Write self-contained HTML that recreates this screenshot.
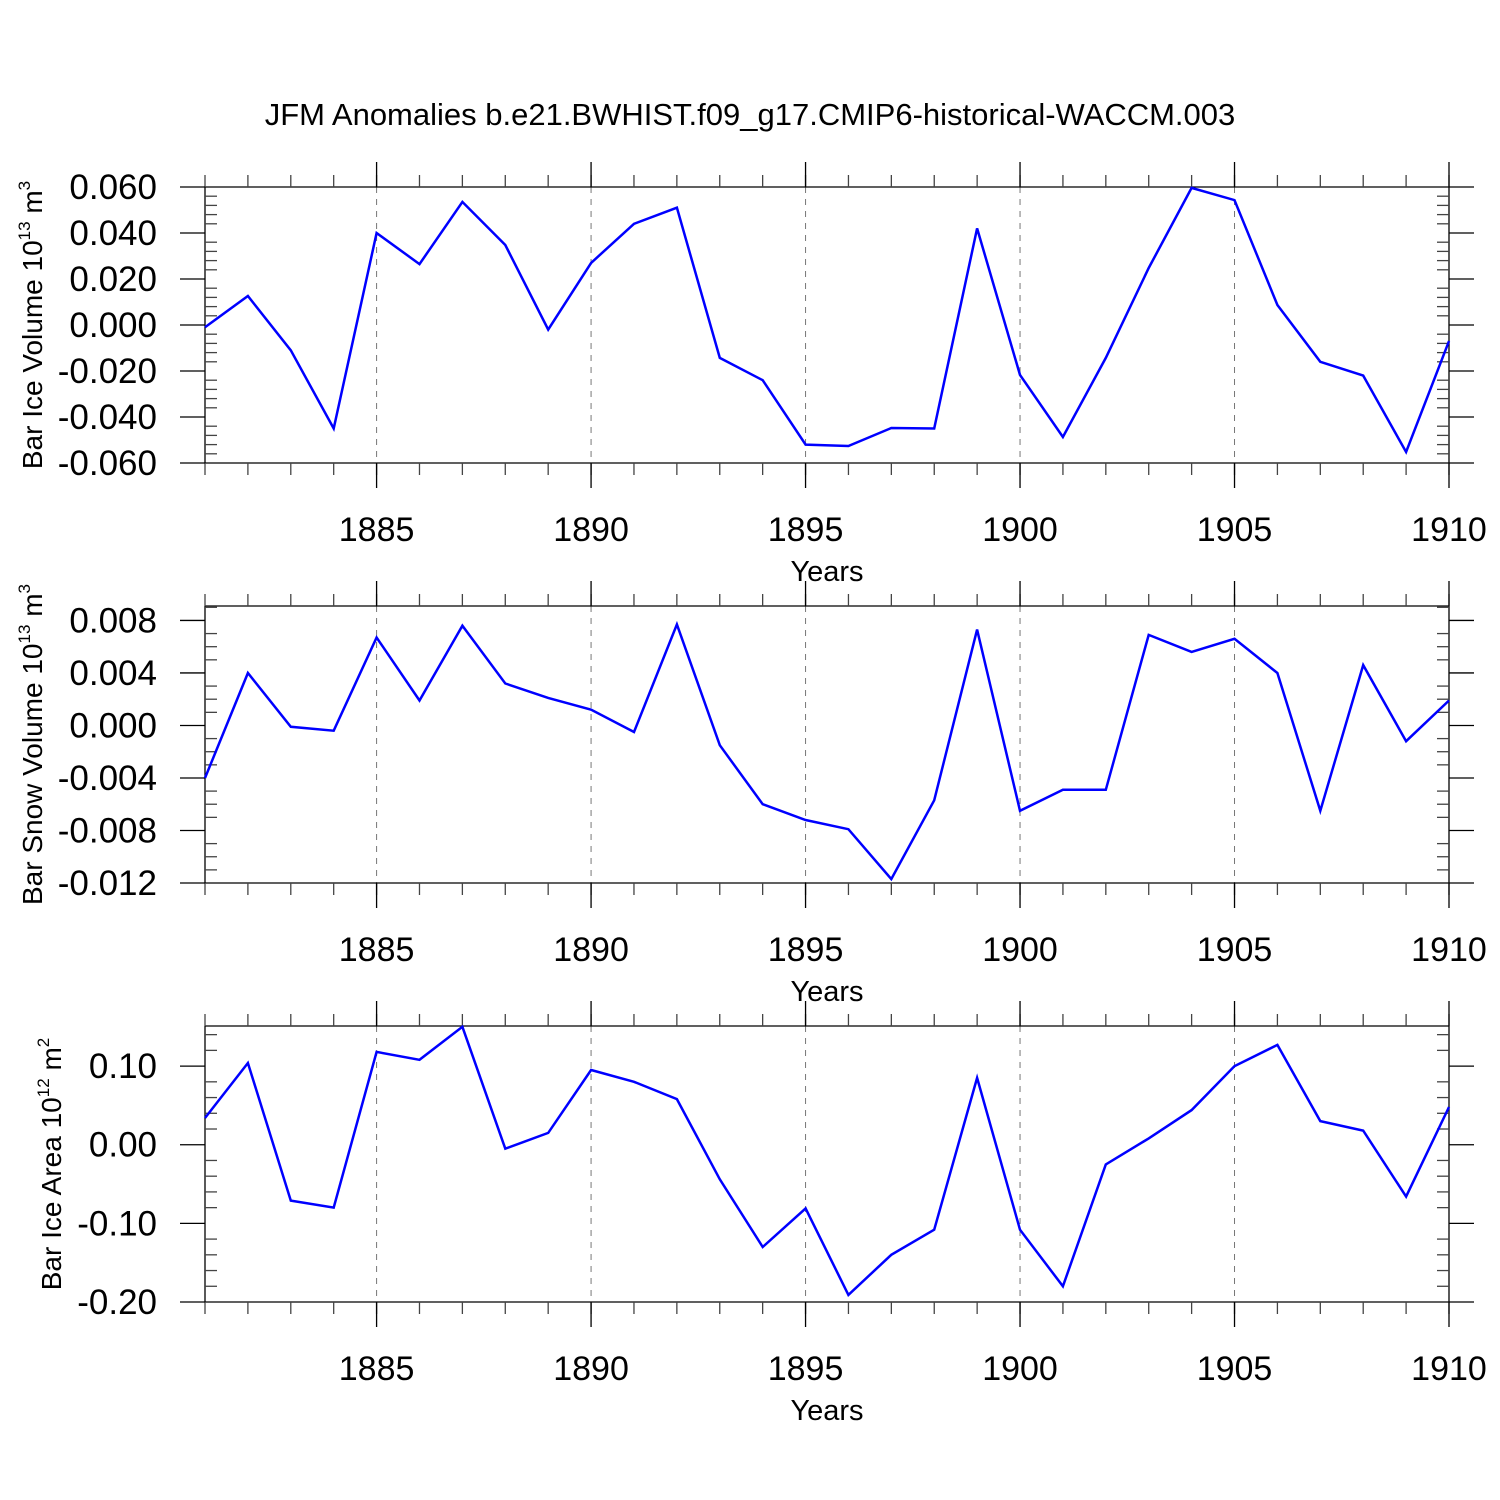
<!DOCTYPE html>
<html><head><meta charset="utf-8"><style>
html,body{margin:0;padding:0;background:#fff;}
svg{display:block;font-family:"Liberation Sans",sans-serif;}
</style></head><body>
<svg id="chart" width="1500" height="1500" viewBox="0 0 1500 1500">
<text x="750" y="125" text-anchor="middle" font-size="31">JFM Anomalies b.e21.BWHIST.f09_g17.CMIP6-historical-WACCM.003</text>
</svg>
<script>
const years = [1881,1882,1883,1884,1885,1886,1887,1888,1889,1890,1891,1892,1893,1894,1895,1896,1897,1898,1899,1900,1901,1902,1903,1904,1905,1906,1907,1908,1909,1910];
const iceVolume = [-0.001,0.0126,-0.011,-0.045,0.040,0.0265,0.0535,0.0348,-0.002,0.027,0.044,0.051,-0.0143,-0.024,-0.052,-0.0526,-0.0448,-0.045,0.042,-0.0217,-0.0487,-0.0143,0.0248,0.0596,0.0543,0.0087,-0.016,-0.022,-0.0552,-0.007];
const snowVolume = [-0.0040,0.0040,-0.0001,-0.0004,0.0067,0.0019,0.0076,0.0032,0.0021,0.0012,-0.0005,0.0077,-0.0015,-0.0060,-0.0072,-0.0079,-0.0117,-0.0057,0.0073,-0.0065,-0.0049,-0.0049,0.0069,0.0056,0.0066,0.0040,-0.0065,0.0046,-0.0012,0.0019];
const iceArea = [0.034,0.104,-0.071,-0.080,0.118,0.108,0.150,-0.005,0.015,0.095,0.080,0.058,-0.044,-0.130,-0.081,-0.191,-0.140,-0.108,0.085,-0.108,-0.180,-0.025,0.008,0.044,0.100,0.127,0.030,0.018,-0.066,0.048];
const xTickLabels = ["1885","1890","1895","1900","1905","1910"];
const iceVolTicks = ["0.060","0.040","0.020","0.000","-0.020","-0.040","-0.060"];
const snowVolTicks = ["0.008","0.004","0.000","-0.004","-0.008","-0.012"];
const iceAreaTicks = ["0.10","0.00","-0.10","-0.20"];

const svg = document.getElementById('chart');
const NS = 'http://www.w3.org/2000/svg';
function mk(tag, attrs, parent){const e=document.createElementNS(NS,tag);for(const k in attrs)e.setAttribute(k,attrs[k]);(parent||svg).appendChild(e);return e;}
const X0=205, X1=1449;
const xs = y => X0 + (y-years[0])/(years[years.length-1]-years[0])*(X1-X0);

const panels = [
 {name:'ice-volume', top:187, bot:463, vmax:0.060, vmin:-0.060, data:iceVolume, ticks:iceVolTicks, minorStep:4, minorN:5, title:'Bar Ice Volume 10', sup:'13', unit:'m', usup:'3', tx:42},
 {name:'snow-volume', top:606, bot:883, vmax:0.0091, vmin:-0.012, data:snowVolume, ticks:snowVolTicks, minorStep:1, minorN:4, title:'Bar Snow Volume 10', sup:'13', unit:'m', usup:'3', tx:42},
 {name:'ice-area', top:1026, bot:1302, vmax:0.151, vmin:-0.20, data:iceArea, ticks:iceAreaTicks, minorStep:2, minorN:5, title:'Bar Ice Area 10', sup:'12', unit:'m', usup:'2', tx:61}
];
panels.forEach(p=>{
  const g = mk('g',{});
  
  
  const ys = v => p.bot - (v-p.vmin)/(p.vmax-p.vmin)*(p.bot-p.top);
  const ln = (x1,y1,x2,y2,extra)=>mk('line',Object.assign({x1,y1,x2,y2,stroke:'#000','stroke-width':1.3},extra||{}),g);
  xTickLabels.forEach(t=>{const x=xs(+t); if(x<X1-1) ln(x,p.top,x,p.bot,{stroke:'#777','stroke-dasharray':'6,6','stroke-width':1});});
  ln(X0,p.top,X1,p.top); ln(X0,p.bot,X1,p.bot); ln(X0,p.top,X0,p.bot); ln(X1,p.top,X1,p.bot);
  years.forEach(y=>{const x=xs(y); ln(x,p.top,x,p.top-12,{stroke:'#444'}); ln(x,p.bot,x,p.bot+12,{stroke:'#444'});});
  xTickLabels.forEach(t=>{const x=xs(+t); ln(x,p.top,x,p.top-25); ln(x,p.bot,x,p.bot+25);
    const tx=mk('text',{x:x,y:p.bot+78,'text-anchor':'middle','font-size':34},g); tx.textContent=t;
    
    });
  const xt=mk('text',{x:827,y:p.bot+118,'text-anchor':'middle','font-size':29},g); xt.textContent='Years';
  
  
  // minor y ticks between major ticks (computed in major-tick units)
  const t0=+p.ticks[0], t1=+p.ticks[1], d=(t0-t1)/p.minorN;
  for(let k=-p.minorN;k<=p.ticks.length*p.minorN;k++){
    if(k%p.minorN===0) continue;
    const v=t0-k*d; if(v>p.vmax+1e-9||v<p.vmin-1e-9) continue;
    const y=ys(v); ln(X0,y,X0+12,y,{stroke:'#444'}); ln(X1,y,X1-12,y,{stroke:'#444'});
  }
  p.ticks.forEach(t=>{const y=ys(+t); ln(X0-25,y,X0,y); ln(X1,y,X1+25,y);
    const tx=mk('text',{x:157,y:y+12,'text-anchor':'end','font-size':35},g); tx.textContent=t;
    
    });
  const cy=(p.top+p.bot)/2;
  const yt=mk('text',{x:0,y:0,'text-anchor':'middle','font-size':28,transform:`translate(${p.tx},${cy}) rotate(-90)`},g);
  
  
  const a=mk('tspan',{},yt); a.textContent=p.title;
  const b=mk('tspan',{dy:-12,'font-size':17},yt); b.textContent=p.sup;
  const c=mk('tspan',{dy:12},yt); c.textContent=' '+p.unit;
  const e=mk('tspan',{dy:-12,'font-size':17},yt); e.textContent=p.usup;
  const pts=p.data.map((v,i)=>xs(years[i]).toFixed(1)+','+ys(v).toFixed(1)).join(' ');
  const pl=mk('polyline',{points:pts,fill:'none',stroke:'#0000ff','stroke-width':2.5,'stroke-linejoin':'miter'},g);
  
  
});
</script>
</body></html>
